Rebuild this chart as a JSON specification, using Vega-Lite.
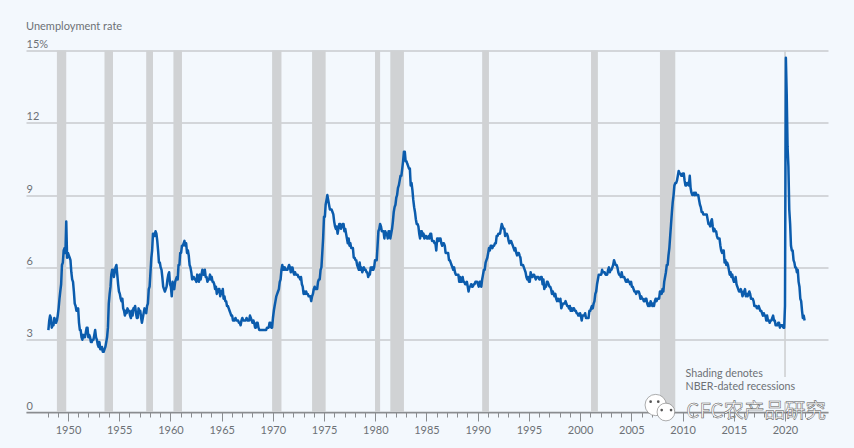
{"$schema":"https://vega.github.io/schema/vega-lite/v6.json","width":802,"height":361.5,"autosize":"none","padding":{"left":26,"top":50.5,"right":26,"bottom":36},"background":"#f3f8fd","view":{"stroke":null},"title":{"text":"Unemployment rate","anchor":"start","frame":"group","offset":7,"font":"Lato","fontSize":11,"fontWeight":"normal","color":"#6d7176"},"config":{"font":"Lato"},"resolve":{"scale":{"x":"independent"}},"datasets":{"rec":[{"s":"1948-11","e":"1949-10","a":0,"b":15},{"s":"1953-07","e":"1954-05","a":0,"b":15},{"s":"1957-08","e":"1958-04","a":0,"b":15},{"s":"1960-04","e":"1961-02","a":0,"b":15},{"s":"1969-12","e":"1970-11","a":0,"b":15},{"s":"1973-11","e":"1975-03","a":0,"b":15},{"s":"1980-01","e":"1980-07","a":0,"b":15},{"s":"1981-07","e":"1982-11","a":0,"b":15},{"s":"1990-07","e":"1991-03","a":0,"b":15},{"s":"2001-03","e":"2001-11","a":0,"b":15},{"s":"2007-12","e":"2009-06","a":0,"b":15},{"s":"2020-02","e":"2020-04","a":1.45,"b":15},{"s":"2020-02","e":"2020-04","a":0,"b":0.4}],"notes":[{"d":"2010-06","y":1.58,"t":"Shading denotes"},{"d":"2010-06","y":1.04,"t":"NBER-dated recessions"}]},"data":{"values":[{"d":"1948-01","u":3.4},{"d":"1948-02","u":3.8},{"d":"1948-03","u":4.0},{"d":"1948-04","u":3.9},{"d":"1948-05","u":3.5},{"d":"1948-06","u":3.6},{"d":"1948-07","u":3.6},{"d":"1948-08","u":3.9},{"d":"1948-09","u":3.8},{"d":"1948-10","u":3.7},{"d":"1948-11","u":3.8},{"d":"1948-12","u":4.0},{"d":"1949-01","u":4.3},{"d":"1949-02","u":4.7},{"d":"1949-03","u":5.0},{"d":"1949-04","u":5.3},{"d":"1949-05","u":6.1},{"d":"1949-06","u":6.2},{"d":"1949-07","u":6.7},{"d":"1949-08","u":6.8},{"d":"1949-09","u":6.6},{"d":"1949-10","u":7.9},{"d":"1949-11","u":6.4},{"d":"1949-12","u":6.6},{"d":"1950-01","u":6.5},{"d":"1950-02","u":6.4},{"d":"1950-03","u":6.3},{"d":"1950-04","u":5.8},{"d":"1950-05","u":5.5},{"d":"1950-06","u":5.4},{"d":"1950-07","u":5.0},{"d":"1950-08","u":4.5},{"d":"1950-09","u":4.4},{"d":"1950-10","u":4.2},{"d":"1950-11","u":4.2},{"d":"1950-12","u":4.3},{"d":"1951-01","u":3.7},{"d":"1951-02","u":3.4},{"d":"1951-03","u":3.4},{"d":"1951-04","u":3.1},{"d":"1951-05","u":3.0},{"d":"1951-06","u":3.2},{"d":"1951-07","u":3.1},{"d":"1951-08","u":3.1},{"d":"1951-09","u":3.3},{"d":"1951-10","u":3.5},{"d":"1951-11","u":3.5},{"d":"1951-12","u":3.1},{"d":"1952-01","u":3.2},{"d":"1952-02","u":3.1},{"d":"1952-03","u":2.9},{"d":"1952-04","u":2.9},{"d":"1952-05","u":3.0},{"d":"1952-06","u":3.0},{"d":"1952-07","u":3.2},{"d":"1952-08","u":3.4},{"d":"1952-09","u":3.1},{"d":"1952-10","u":3.0},{"d":"1952-11","u":2.8},{"d":"1952-12","u":2.7},{"d":"1953-01","u":2.9},{"d":"1953-02","u":2.6},{"d":"1953-03","u":2.6},{"d":"1953-04","u":2.7},{"d":"1953-05","u":2.5},{"d":"1953-06","u":2.5},{"d":"1953-07","u":2.6},{"d":"1953-08","u":2.7},{"d":"1953-09","u":2.9},{"d":"1953-10","u":3.1},{"d":"1953-11","u":3.5},{"d":"1953-12","u":4.5},{"d":"1954-01","u":4.9},{"d":"1954-02","u":5.2},{"d":"1954-03","u":5.7},{"d":"1954-04","u":5.9},{"d":"1954-05","u":5.9},{"d":"1954-06","u":5.6},{"d":"1954-07","u":5.8},{"d":"1954-08","u":6.0},{"d":"1954-09","u":6.1},{"d":"1954-10","u":5.7},{"d":"1954-11","u":5.3},{"d":"1954-12","u":5.0},{"d":"1955-01","u":4.9},{"d":"1955-02","u":4.7},{"d":"1955-03","u":4.6},{"d":"1955-04","u":4.7},{"d":"1955-05","u":4.3},{"d":"1955-06","u":4.2},{"d":"1955-07","u":4.0},{"d":"1955-08","u":4.2},{"d":"1955-09","u":4.1},{"d":"1955-10","u":4.3},{"d":"1955-11","u":4.2},{"d":"1955-12","u":4.2},{"d":"1956-01","u":4.0},{"d":"1956-02","u":3.9},{"d":"1956-03","u":4.2},{"d":"1956-04","u":4.0},{"d":"1956-05","u":4.3},{"d":"1956-06","u":4.3},{"d":"1956-07","u":4.4},{"d":"1956-08","u":4.1},{"d":"1956-09","u":3.9},{"d":"1956-10","u":3.9},{"d":"1956-11","u":4.3},{"d":"1956-12","u":4.2},{"d":"1957-01","u":4.2},{"d":"1957-02","u":3.9},{"d":"1957-03","u":3.7},{"d":"1957-04","u":3.9},{"d":"1957-05","u":4.1},{"d":"1957-06","u":4.3},{"d":"1957-07","u":4.2},{"d":"1957-08","u":4.1},{"d":"1957-09","u":4.4},{"d":"1957-10","u":4.5},{"d":"1957-11","u":5.1},{"d":"1957-12","u":5.2},{"d":"1958-01","u":5.8},{"d":"1958-02","u":6.4},{"d":"1958-03","u":6.7},{"d":"1958-04","u":7.4},{"d":"1958-05","u":7.4},{"d":"1958-06","u":7.3},{"d":"1958-07","u":7.5},{"d":"1958-08","u":7.4},{"d":"1958-09","u":7.1},{"d":"1958-10","u":6.7},{"d":"1958-11","u":6.2},{"d":"1958-12","u":6.2},{"d":"1959-01","u":6.0},{"d":"1959-02","u":5.9},{"d":"1959-03","u":5.6},{"d":"1959-04","u":5.2},{"d":"1959-05","u":5.1},{"d":"1959-06","u":5.0},{"d":"1959-07","u":5.1},{"d":"1959-08","u":5.2},{"d":"1959-09","u":5.5},{"d":"1959-10","u":5.7},{"d":"1959-11","u":5.8},{"d":"1959-12","u":5.3},{"d":"1960-01","u":5.2},{"d":"1960-02","u":4.8},{"d":"1960-03","u":5.4},{"d":"1960-04","u":5.2},{"d":"1960-05","u":5.1},{"d":"1960-06","u":5.4},{"d":"1960-07","u":5.5},{"d":"1960-08","u":5.6},{"d":"1960-09","u":5.5},{"d":"1960-10","u":6.1},{"d":"1960-11","u":6.1},{"d":"1960-12","u":6.6},{"d":"1961-01","u":6.6},{"d":"1961-02","u":6.9},{"d":"1961-03","u":6.9},{"d":"1961-04","u":7.0},{"d":"1961-05","u":7.1},{"d":"1961-06","u":6.9},{"d":"1961-07","u":7.0},{"d":"1961-08","u":6.6},{"d":"1961-09","u":6.7},{"d":"1961-10","u":6.5},{"d":"1961-11","u":6.1},{"d":"1961-12","u":6.0},{"d":"1962-01","u":5.8},{"d":"1962-02","u":5.5},{"d":"1962-03","u":5.6},{"d":"1962-04","u":5.6},{"d":"1962-05","u":5.5},{"d":"1962-06","u":5.5},{"d":"1962-07","u":5.4},{"d":"1962-08","u":5.7},{"d":"1962-09","u":5.6},{"d":"1962-10","u":5.4},{"d":"1962-11","u":5.7},{"d":"1962-12","u":5.5},{"d":"1963-01","u":5.7},{"d":"1963-02","u":5.9},{"d":"1963-03","u":5.7},{"d":"1963-04","u":5.7},{"d":"1963-05","u":5.9},{"d":"1963-06","u":5.6},{"d":"1963-07","u":5.6},{"d":"1963-08","u":5.4},{"d":"1963-09","u":5.5},{"d":"1963-10","u":5.5},{"d":"1963-11","u":5.7},{"d":"1963-12","u":5.5},{"d":"1964-01","u":5.6},{"d":"1964-02","u":5.4},{"d":"1964-03","u":5.4},{"d":"1964-04","u":5.3},{"d":"1964-05","u":5.1},{"d":"1964-06","u":5.2},{"d":"1964-07","u":4.9},{"d":"1964-08","u":5.0},{"d":"1964-09","u":5.1},{"d":"1964-10","u":5.1},{"d":"1964-11","u":4.8},{"d":"1964-12","u":5.0},{"d":"1965-01","u":4.9},{"d":"1965-02","u":5.1},{"d":"1965-03","u":4.7},{"d":"1965-04","u":4.8},{"d":"1965-05","u":4.6},{"d":"1965-06","u":4.6},{"d":"1965-07","u":4.4},{"d":"1965-08","u":4.4},{"d":"1965-09","u":4.3},{"d":"1965-10","u":4.2},{"d":"1965-11","u":4.1},{"d":"1965-12","u":4.0},{"d":"1966-01","u":4.0},{"d":"1966-02","u":3.8},{"d":"1966-03","u":3.8},{"d":"1966-04","u":3.8},{"d":"1966-05","u":3.9},{"d":"1966-06","u":3.8},{"d":"1966-07","u":3.8},{"d":"1966-08","u":3.8},{"d":"1966-09","u":3.7},{"d":"1966-10","u":3.7},{"d":"1966-11","u":3.6},{"d":"1966-12","u":3.8},{"d":"1967-01","u":3.9},{"d":"1967-02","u":3.8},{"d":"1967-03","u":3.8},{"d":"1967-04","u":3.8},{"d":"1967-05","u":3.8},{"d":"1967-06","u":3.9},{"d":"1967-07","u":3.8},{"d":"1967-08","u":3.8},{"d":"1967-09","u":3.8},{"d":"1967-10","u":4.0},{"d":"1967-11","u":3.9},{"d":"1967-12","u":3.8},{"d":"1968-01","u":3.7},{"d":"1968-02","u":3.8},{"d":"1968-03","u":3.7},{"d":"1968-04","u":3.5},{"d":"1968-05","u":3.5},{"d":"1968-06","u":3.7},{"d":"1968-07","u":3.7},{"d":"1968-08","u":3.5},{"d":"1968-09","u":3.4},{"d":"1968-10","u":3.4},{"d":"1968-11","u":3.4},{"d":"1968-12","u":3.4},{"d":"1969-01","u":3.4},{"d":"1969-02","u":3.4},{"d":"1969-03","u":3.4},{"d":"1969-04","u":3.4},{"d":"1969-05","u":3.4},{"d":"1969-06","u":3.5},{"d":"1969-07","u":3.5},{"d":"1969-08","u":3.5},{"d":"1969-09","u":3.7},{"d":"1969-10","u":3.7},{"d":"1969-11","u":3.5},{"d":"1969-12","u":3.5},{"d":"1970-01","u":3.9},{"d":"1970-02","u":4.2},{"d":"1970-03","u":4.4},{"d":"1970-04","u":4.6},{"d":"1970-05","u":4.8},{"d":"1970-06","u":4.9},{"d":"1970-07","u":5.0},{"d":"1970-08","u":5.1},{"d":"1970-09","u":5.4},{"d":"1970-10","u":5.5},{"d":"1970-11","u":5.9},{"d":"1970-12","u":6.1},{"d":"1971-01","u":5.9},{"d":"1971-02","u":5.9},{"d":"1971-03","u":6.0},{"d":"1971-04","u":5.9},{"d":"1971-05","u":5.9},{"d":"1971-06","u":5.9},{"d":"1971-07","u":6.0},{"d":"1971-08","u":6.1},{"d":"1971-09","u":6.0},{"d":"1971-10","u":5.8},{"d":"1971-11","u":6.0},{"d":"1971-12","u":6.0},{"d":"1972-01","u":5.8},{"d":"1972-02","u":5.7},{"d":"1972-03","u":5.8},{"d":"1972-04","u":5.7},{"d":"1972-05","u":5.7},{"d":"1972-06","u":5.7},{"d":"1972-07","u":5.6},{"d":"1972-08","u":5.6},{"d":"1972-09","u":5.5},{"d":"1972-10","u":5.6},{"d":"1972-11","u":5.3},{"d":"1972-12","u":5.2},{"d":"1973-01","u":4.9},{"d":"1973-02","u":5.0},{"d":"1973-03","u":4.9},{"d":"1973-04","u":5.0},{"d":"1973-05","u":4.9},{"d":"1973-06","u":4.9},{"d":"1973-07","u":4.8},{"d":"1973-08","u":4.8},{"d":"1973-09","u":4.8},{"d":"1973-10","u":4.6},{"d":"1973-11","u":4.8},{"d":"1973-12","u":4.9},{"d":"1974-01","u":5.1},{"d":"1974-02","u":5.2},{"d":"1974-03","u":5.1},{"d":"1974-04","u":5.1},{"d":"1974-05","u":5.1},{"d":"1974-06","u":5.4},{"d":"1974-07","u":5.5},{"d":"1974-08","u":5.5},{"d":"1974-09","u":5.9},{"d":"1974-10","u":6.0},{"d":"1974-11","u":6.6},{"d":"1974-12","u":7.2},{"d":"1975-01","u":8.1},{"d":"1975-02","u":8.1},{"d":"1975-03","u":8.6},{"d":"1975-04","u":8.8},{"d":"1975-05","u":9.0},{"d":"1975-06","u":8.8},{"d":"1975-07","u":8.6},{"d":"1975-08","u":8.4},{"d":"1975-09","u":8.4},{"d":"1975-10","u":8.4},{"d":"1975-11","u":8.3},{"d":"1975-12","u":8.2},{"d":"1976-01","u":7.9},{"d":"1976-02","u":7.7},{"d":"1976-03","u":7.6},{"d":"1976-04","u":7.7},{"d":"1976-05","u":7.4},{"d":"1976-06","u":7.6},{"d":"1976-07","u":7.8},{"d":"1976-08","u":7.8},{"d":"1976-09","u":7.6},{"d":"1976-10","u":7.7},{"d":"1976-11","u":7.8},{"d":"1976-12","u":7.8},{"d":"1977-01","u":7.5},{"d":"1977-02","u":7.6},{"d":"1977-03","u":7.4},{"d":"1977-04","u":7.2},{"d":"1977-05","u":7.0},{"d":"1977-06","u":7.2},{"d":"1977-07","u":6.9},{"d":"1977-08","u":7.0},{"d":"1977-09","u":6.8},{"d":"1977-10","u":6.8},{"d":"1977-11","u":6.8},{"d":"1977-12","u":6.4},{"d":"1978-01","u":6.4},{"d":"1978-02","u":6.3},{"d":"1978-03","u":6.3},{"d":"1978-04","u":6.1},{"d":"1978-05","u":6.0},{"d":"1978-06","u":5.9},{"d":"1978-07","u":6.2},{"d":"1978-08","u":5.9},{"d":"1978-09","u":6.0},{"d":"1978-10","u":5.8},{"d":"1978-11","u":5.9},{"d":"1978-12","u":6.0},{"d":"1979-01","u":5.9},{"d":"1979-02","u":5.9},{"d":"1979-03","u":5.8},{"d":"1979-04","u":5.8},{"d":"1979-05","u":5.6},{"d":"1979-06","u":5.7},{"d":"1979-07","u":5.7},{"d":"1979-08","u":6.0},{"d":"1979-09","u":5.9},{"d":"1979-10","u":6.0},{"d":"1979-11","u":5.9},{"d":"1979-12","u":6.0},{"d":"1980-01","u":6.3},{"d":"1980-02","u":6.3},{"d":"1980-03","u":6.3},{"d":"1980-04","u":6.9},{"d":"1980-05","u":7.5},{"d":"1980-06","u":7.6},{"d":"1980-07","u":7.8},{"d":"1980-08","u":7.7},{"d":"1980-09","u":7.5},{"d":"1980-10","u":7.5},{"d":"1980-11","u":7.5},{"d":"1980-12","u":7.2},{"d":"1981-01","u":7.5},{"d":"1981-02","u":7.4},{"d":"1981-03","u":7.4},{"d":"1981-04","u":7.2},{"d":"1981-05","u":7.5},{"d":"1981-06","u":7.5},{"d":"1981-07","u":7.2},{"d":"1981-08","u":7.4},{"d":"1981-09","u":7.6},{"d":"1981-10","u":7.9},{"d":"1981-11","u":8.3},{"d":"1981-12","u":8.5},{"d":"1982-01","u":8.6},{"d":"1982-02","u":8.9},{"d":"1982-03","u":9.0},{"d":"1982-04","u":9.3},{"d":"1982-05","u":9.4},{"d":"1982-06","u":9.6},{"d":"1982-07","u":9.8},{"d":"1982-08","u":9.8},{"d":"1982-09","u":10.1},{"d":"1982-10","u":10.4},{"d":"1982-11","u":10.8},{"d":"1982-12","u":10.8},{"d":"1983-01","u":10.4},{"d":"1983-02","u":10.4},{"d":"1983-03","u":10.3},{"d":"1983-04","u":10.2},{"d":"1983-05","u":10.1},{"d":"1983-06","u":10.1},{"d":"1983-07","u":9.4},{"d":"1983-08","u":9.5},{"d":"1983-09","u":9.2},{"d":"1983-10","u":8.8},{"d":"1983-11","u":8.5},{"d":"1983-12","u":8.3},{"d":"1984-01","u":8.0},{"d":"1984-02","u":7.8},{"d":"1984-03","u":7.8},{"d":"1984-04","u":7.7},{"d":"1984-05","u":7.4},{"d":"1984-06","u":7.2},{"d":"1984-07","u":7.5},{"d":"1984-08","u":7.5},{"d":"1984-09","u":7.3},{"d":"1984-10","u":7.4},{"d":"1984-11","u":7.2},{"d":"1984-12","u":7.3},{"d":"1985-01","u":7.3},{"d":"1985-02","u":7.2},{"d":"1985-03","u":7.2},{"d":"1985-04","u":7.3},{"d":"1985-05","u":7.2},{"d":"1985-06","u":7.4},{"d":"1985-07","u":7.4},{"d":"1985-08","u":7.1},{"d":"1985-09","u":7.1},{"d":"1985-10","u":7.1},{"d":"1985-11","u":7.0},{"d":"1985-12","u":7.0},{"d":"1986-01","u":6.7},{"d":"1986-02","u":7.2},{"d":"1986-03","u":7.2},{"d":"1986-04","u":7.1},{"d":"1986-05","u":7.2},{"d":"1986-06","u":7.2},{"d":"1986-07","u":7.0},{"d":"1986-08","u":6.9},{"d":"1986-09","u":7.0},{"d":"1986-10","u":7.0},{"d":"1986-11","u":6.9},{"d":"1986-12","u":6.6},{"d":"1987-01","u":6.6},{"d":"1987-02","u":6.6},{"d":"1987-03","u":6.6},{"d":"1987-04","u":6.3},{"d":"1987-05","u":6.3},{"d":"1987-06","u":6.2},{"d":"1987-07","u":6.1},{"d":"1987-08","u":6.0},{"d":"1987-09","u":5.9},{"d":"1987-10","u":6.0},{"d":"1987-11","u":5.8},{"d":"1987-12","u":5.7},{"d":"1988-01","u":5.7},{"d":"1988-02","u":5.7},{"d":"1988-03","u":5.7},{"d":"1988-04","u":5.4},{"d":"1988-05","u":5.6},{"d":"1988-06","u":5.4},{"d":"1988-07","u":5.4},{"d":"1988-08","u":5.6},{"d":"1988-09","u":5.4},{"d":"1988-10","u":5.4},{"d":"1988-11","u":5.3},{"d":"1988-12","u":5.3},{"d":"1989-01","u":5.4},{"d":"1989-02","u":5.2},{"d":"1989-03","u":5.0},{"d":"1989-04","u":5.2},{"d":"1989-05","u":5.2},{"d":"1989-06","u":5.3},{"d":"1989-07","u":5.2},{"d":"1989-08","u":5.2},{"d":"1989-09","u":5.3},{"d":"1989-10","u":5.3},{"d":"1989-11","u":5.4},{"d":"1989-12","u":5.4},{"d":"1990-01","u":5.4},{"d":"1990-02","u":5.3},{"d":"1990-03","u":5.2},{"d":"1990-04","u":5.4},{"d":"1990-05","u":5.4},{"d":"1990-06","u":5.2},{"d":"1990-07","u":5.5},{"d":"1990-08","u":5.7},{"d":"1990-09","u":5.9},{"d":"1990-10","u":5.9},{"d":"1990-11","u":6.2},{"d":"1990-12","u":6.3},{"d":"1991-01","u":6.4},{"d":"1991-02","u":6.6},{"d":"1991-03","u":6.8},{"d":"1991-04","u":6.7},{"d":"1991-05","u":6.9},{"d":"1991-06","u":6.9},{"d":"1991-07","u":6.8},{"d":"1991-08","u":6.9},{"d":"1991-09","u":6.9},{"d":"1991-10","u":7.0},{"d":"1991-11","u":7.0},{"d":"1991-12","u":7.3},{"d":"1992-01","u":7.3},{"d":"1992-02","u":7.4},{"d":"1992-03","u":7.4},{"d":"1992-04","u":7.4},{"d":"1992-05","u":7.6},{"d":"1992-06","u":7.8},{"d":"1992-07","u":7.7},{"d":"1992-08","u":7.6},{"d":"1992-09","u":7.6},{"d":"1992-10","u":7.3},{"d":"1992-11","u":7.4},{"d":"1992-12","u":7.4},{"d":"1993-01","u":7.3},{"d":"1993-02","u":7.1},{"d":"1993-03","u":7.0},{"d":"1993-04","u":7.1},{"d":"1993-05","u":7.1},{"d":"1993-06","u":7.0},{"d":"1993-07","u":6.9},{"d":"1993-08","u":6.8},{"d":"1993-09","u":6.7},{"d":"1993-10","u":6.8},{"d":"1993-11","u":6.6},{"d":"1993-12","u":6.5},{"d":"1994-01","u":6.6},{"d":"1994-02","u":6.6},{"d":"1994-03","u":6.5},{"d":"1994-04","u":6.4},{"d":"1994-05","u":6.1},{"d":"1994-06","u":6.1},{"d":"1994-07","u":6.1},{"d":"1994-08","u":6.0},{"d":"1994-09","u":5.9},{"d":"1994-10","u":5.8},{"d":"1994-11","u":5.6},{"d":"1994-12","u":5.5},{"d":"1995-01","u":5.6},{"d":"1995-02","u":5.4},{"d":"1995-03","u":5.4},{"d":"1995-04","u":5.8},{"d":"1995-05","u":5.6},{"d":"1995-06","u":5.6},{"d":"1995-07","u":5.7},{"d":"1995-08","u":5.7},{"d":"1995-09","u":5.6},{"d":"1995-10","u":5.5},{"d":"1995-11","u":5.6},{"d":"1995-12","u":5.6},{"d":"1996-01","u":5.6},{"d":"1996-02","u":5.5},{"d":"1996-03","u":5.5},{"d":"1996-04","u":5.6},{"d":"1996-05","u":5.6},{"d":"1996-06","u":5.3},{"d":"1996-07","u":5.5},{"d":"1996-08","u":5.1},{"d":"1996-09","u":5.2},{"d":"1996-10","u":5.2},{"d":"1996-11","u":5.4},{"d":"1996-12","u":5.4},{"d":"1997-01","u":5.3},{"d":"1997-02","u":5.2},{"d":"1997-03","u":5.2},{"d":"1997-04","u":5.1},{"d":"1997-05","u":4.9},{"d":"1997-06","u":5.0},{"d":"1997-07","u":4.9},{"d":"1997-08","u":4.8},{"d":"1997-09","u":4.9},{"d":"1997-10","u":4.7},{"d":"1997-11","u":4.6},{"d":"1997-12","u":4.7},{"d":"1998-01","u":4.6},{"d":"1998-02","u":4.6},{"d":"1998-03","u":4.7},{"d":"1998-04","u":4.3},{"d":"1998-05","u":4.4},{"d":"1998-06","u":4.5},{"d":"1998-07","u":4.5},{"d":"1998-08","u":4.5},{"d":"1998-09","u":4.6},{"d":"1998-10","u":4.5},{"d":"1998-11","u":4.4},{"d":"1998-12","u":4.4},{"d":"1999-01","u":4.3},{"d":"1999-02","u":4.4},{"d":"1999-03","u":4.2},{"d":"1999-04","u":4.3},{"d":"1999-05","u":4.2},{"d":"1999-06","u":4.3},{"d":"1999-07","u":4.3},{"d":"1999-08","u":4.2},{"d":"1999-09","u":4.2},{"d":"1999-10","u":4.1},{"d":"1999-11","u":4.1},{"d":"1999-12","u":4.0},{"d":"2000-01","u":4.0},{"d":"2000-02","u":4.1},{"d":"2000-03","u":4.0},{"d":"2000-04","u":3.8},{"d":"2000-05","u":4.0},{"d":"2000-06","u":4.0},{"d":"2000-07","u":4.0},{"d":"2000-08","u":4.1},{"d":"2000-09","u":3.9},{"d":"2000-10","u":3.9},{"d":"2000-11","u":3.9},{"d":"2000-12","u":3.9},{"d":"2001-01","u":4.2},{"d":"2001-02","u":4.2},{"d":"2001-03","u":4.3},{"d":"2001-04","u":4.4},{"d":"2001-05","u":4.3},{"d":"2001-06","u":4.5},{"d":"2001-07","u":4.6},{"d":"2001-08","u":4.9},{"d":"2001-09","u":5.0},{"d":"2001-10","u":5.3},{"d":"2001-11","u":5.5},{"d":"2001-12","u":5.7},{"d":"2002-01","u":5.7},{"d":"2002-02","u":5.7},{"d":"2002-03","u":5.7},{"d":"2002-04","u":5.9},{"d":"2002-05","u":5.8},{"d":"2002-06","u":5.8},{"d":"2002-07","u":5.8},{"d":"2002-08","u":5.7},{"d":"2002-09","u":5.7},{"d":"2002-10","u":5.7},{"d":"2002-11","u":5.9},{"d":"2002-12","u":6.0},{"d":"2003-01","u":5.8},{"d":"2003-02","u":5.9},{"d":"2003-03","u":5.9},{"d":"2003-04","u":6.0},{"d":"2003-05","u":6.1},{"d":"2003-06","u":6.3},{"d":"2003-07","u":6.2},{"d":"2003-08","u":6.1},{"d":"2003-09","u":6.1},{"d":"2003-10","u":6.0},{"d":"2003-11","u":5.8},{"d":"2003-12","u":5.7},{"d":"2004-01","u":5.7},{"d":"2004-02","u":5.6},{"d":"2004-03","u":5.8},{"d":"2004-04","u":5.6},{"d":"2004-05","u":5.6},{"d":"2004-06","u":5.6},{"d":"2004-07","u":5.5},{"d":"2004-08","u":5.4},{"d":"2004-09","u":5.4},{"d":"2004-10","u":5.5},{"d":"2004-11","u":5.4},{"d":"2004-12","u":5.4},{"d":"2005-01","u":5.3},{"d":"2005-02","u":5.4},{"d":"2005-03","u":5.2},{"d":"2005-04","u":5.2},{"d":"2005-05","u":5.1},{"d":"2005-06","u":5.0},{"d":"2005-07","u":5.0},{"d":"2005-08","u":4.9},{"d":"2005-09","u":5.0},{"d":"2005-10","u":5.0},{"d":"2005-11","u":5.0},{"d":"2005-12","u":4.9},{"d":"2006-01","u":4.7},{"d":"2006-02","u":4.8},{"d":"2006-03","u":4.7},{"d":"2006-04","u":4.7},{"d":"2006-05","u":4.6},{"d":"2006-06","u":4.6},{"d":"2006-07","u":4.7},{"d":"2006-08","u":4.7},{"d":"2006-09","u":4.5},{"d":"2006-10","u":4.4},{"d":"2006-11","u":4.5},{"d":"2006-12","u":4.4},{"d":"2007-01","u":4.6},{"d":"2007-02","u":4.5},{"d":"2007-03","u":4.4},{"d":"2007-04","u":4.5},{"d":"2007-05","u":4.4},{"d":"2007-06","u":4.6},{"d":"2007-07","u":4.7},{"d":"2007-08","u":4.6},{"d":"2007-09","u":4.7},{"d":"2007-10","u":4.7},{"d":"2007-11","u":4.7},{"d":"2007-12","u":5.0},{"d":"2008-01","u":5.0},{"d":"2008-02","u":4.9},{"d":"2008-03","u":5.1},{"d":"2008-04","u":5.0},{"d":"2008-05","u":5.4},{"d":"2008-06","u":5.6},{"d":"2008-07","u":5.8},{"d":"2008-08","u":6.1},{"d":"2008-09","u":6.1},{"d":"2008-10","u":6.5},{"d":"2008-11","u":6.8},{"d":"2008-12","u":7.3},{"d":"2009-01","u":7.8},{"d":"2009-02","u":8.3},{"d":"2009-03","u":8.7},{"d":"2009-04","u":9.0},{"d":"2009-05","u":9.4},{"d":"2009-06","u":9.5},{"d":"2009-07","u":9.5},{"d":"2009-08","u":9.6},{"d":"2009-09","u":9.8},{"d":"2009-10","u":10.0},{"d":"2009-11","u":9.9},{"d":"2009-12","u":9.9},{"d":"2010-01","u":9.8},{"d":"2010-02","u":9.8},{"d":"2010-03","u":9.9},{"d":"2010-04","u":9.9},{"d":"2010-05","u":9.6},{"d":"2010-06","u":9.4},{"d":"2010-07","u":9.4},{"d":"2010-08","u":9.5},{"d":"2010-09","u":9.5},{"d":"2010-10","u":9.4},{"d":"2010-11","u":9.8},{"d":"2010-12","u":9.3},{"d":"2011-01","u":9.1},{"d":"2011-02","u":9.0},{"d":"2011-03","u":9.0},{"d":"2011-04","u":9.1},{"d":"2011-05","u":9.0},{"d":"2011-06","u":9.1},{"d":"2011-07","u":9.0},{"d":"2011-08","u":9.0},{"d":"2011-09","u":9.0},{"d":"2011-10","u":8.8},{"d":"2011-11","u":8.6},{"d":"2011-12","u":8.5},{"d":"2012-01","u":8.3},{"d":"2012-02","u":8.3},{"d":"2012-03","u":8.2},{"d":"2012-04","u":8.2},{"d":"2012-05","u":8.2},{"d":"2012-06","u":8.2},{"d":"2012-07","u":8.2},{"d":"2012-08","u":8.0},{"d":"2012-09","u":7.8},{"d":"2012-10","u":7.8},{"d":"2012-11","u":7.7},{"d":"2012-12","u":7.9},{"d":"2013-01","u":8.0},{"d":"2013-02","u":7.7},{"d":"2013-03","u":7.5},{"d":"2013-04","u":7.6},{"d":"2013-05","u":7.5},{"d":"2013-06","u":7.5},{"d":"2013-07","u":7.3},{"d":"2013-08","u":7.2},{"d":"2013-09","u":7.2},{"d":"2013-10","u":7.2},{"d":"2013-11","u":6.9},{"d":"2013-12","u":6.7},{"d":"2014-01","u":6.6},{"d":"2014-02","u":6.7},{"d":"2014-03","u":6.7},{"d":"2014-04","u":6.2},{"d":"2014-05","u":6.3},{"d":"2014-06","u":6.1},{"d":"2014-07","u":6.2},{"d":"2014-08","u":6.1},{"d":"2014-09","u":5.9},{"d":"2014-10","u":5.7},{"d":"2014-11","u":5.8},{"d":"2014-12","u":5.6},{"d":"2015-01","u":5.7},{"d":"2015-02","u":5.5},{"d":"2015-03","u":5.4},{"d":"2015-04","u":5.4},{"d":"2015-05","u":5.6},{"d":"2015-06","u":5.3},{"d":"2015-07","u":5.2},{"d":"2015-08","u":5.1},{"d":"2015-09","u":5.0},{"d":"2015-10","u":5.0},{"d":"2015-11","u":5.1},{"d":"2015-12","u":5.0},{"d":"2016-01","u":4.8},{"d":"2016-02","u":4.9},{"d":"2016-03","u":5.0},{"d":"2016-04","u":5.1},{"d":"2016-05","u":4.8},{"d":"2016-06","u":4.9},{"d":"2016-07","u":4.8},{"d":"2016-08","u":4.9},{"d":"2016-09","u":5.0},{"d":"2016-10","u":4.9},{"d":"2016-11","u":4.7},{"d":"2016-12","u":4.7},{"d":"2017-01","u":4.7},{"d":"2017-02","u":4.6},{"d":"2017-03","u":4.4},{"d":"2017-04","u":4.4},{"d":"2017-05","u":4.4},{"d":"2017-06","u":4.3},{"d":"2017-07","u":4.3},{"d":"2017-08","u":4.4},{"d":"2017-09","u":4.3},{"d":"2017-10","u":4.2},{"d":"2017-11","u":4.2},{"d":"2017-12","u":4.1},{"d":"2018-01","u":4.0},{"d":"2018-02","u":4.1},{"d":"2018-03","u":4.0},{"d":"2018-04","u":4.0},{"d":"2018-05","u":3.8},{"d":"2018-06","u":4.0},{"d":"2018-07","u":3.8},{"d":"2018-08","u":3.8},{"d":"2018-09","u":3.7},{"d":"2018-10","u":3.8},{"d":"2018-11","u":3.8},{"d":"2018-12","u":3.9},{"d":"2019-01","u":4.0},{"d":"2019-02","u":3.8},{"d":"2019-03","u":3.8},{"d":"2019-04","u":3.6},{"d":"2019-05","u":3.6},{"d":"2019-06","u":3.6},{"d":"2019-07","u":3.7},{"d":"2019-08","u":3.7},{"d":"2019-09","u":3.5},{"d":"2019-10","u":3.6},{"d":"2019-11","u":3.6},{"d":"2019-12","u":3.6},{"d":"2020-01","u":3.5},{"d":"2020-02","u":3.5},{"d":"2020-03","u":4.4},{"d":"2020-04","u":14.7},{"d":"2020-05","u":13.2},{"d":"2020-06","u":11.0},{"d":"2020-07","u":10.2},{"d":"2020-08","u":8.4},{"d":"2020-09","u":7.8},{"d":"2020-10","u":6.9},{"d":"2020-11","u":6.7},{"d":"2020-12","u":6.7},{"d":"2021-01","u":6.3},{"d":"2021-02","u":6.2},{"d":"2021-03","u":6.0},{"d":"2021-04","u":6.0},{"d":"2021-05","u":5.8},{"d":"2021-06","u":5.9},{"d":"2021-07","u":5.4},{"d":"2021-08","u":5.2},{"d":"2021-09","u":4.7},{"d":"2021-10","u":4.6},{"d":"2021-11","u":4.2},{"d":"2021-12","u":3.9},{"d":"2022-01","u":4.0},{"d":"2022-02","u":3.8}]},"layer":[{"data":{"name":"rec"},"mark":{"type":"rect","color":"#d0d2d4"},"encoding":{"x":{"field":"s","type":"temporal","scale":{"type":"utc","domain":["1945-10-22","2024-05-18"]},"axis":null},"x2":{"field":"e"},"y":{"field":"a","type":"quantitative","scale":{"domain":[0,15],"nice":false},"axis":{"title":null,"values":[0,3,6,9,12,15],"labelExpr":"datum.value==15 ? '15%' : datum.value","labelAlign":"left","labelBaseline":"bottom","labelPadding":0,"labelOffset":-1,"labelFont":"Lato","labelFontSize":11,"labelColor":"#6d7176","ticks":false,"domain":false,"grid":true,"gridColor":"#c9cbce","gridWidth":1.5}},"y2":{"field":"b"}}},{"data":{"name":"rec"},"mark":{"type":"rule","opacity":0},"encoding":{"x":{"field":"s","type":"temporal","scale":{"type":"utc","domain":["1945-11-25","2024-03-15"]},"axis":{"title":null,"orient":"bottom","tickCount":{"interval":"year","step":1},"labelExpr":"utcyear(datum.value)%5==0 ? utcFormat(datum.value,'%Y') : ''","labelOverlap":false,"labelFlush":false,"labelFont":"Lato","labelFontSize":11,"labelColor":"#6d7176","labelPadding":3,"domainColor":"#8a8d90","domainWidth":1.5,"tickColor":"#8a8d90","tickWidth":1,"tickSize":{"condition":{"test":"utcyear(datum.value)%5==0","value":9},"value":5},"tickOpacity":{"condition":{"test":"utcyear(datum.value)<1948 || utcyear(datum.value)>2022","value":0},"value":1},"grid":false}}}},{"mark":{"type":"line","color":"#0b5cad","strokeWidth":2.5,"strokeJoin":"round"},"encoding":{"x":{"field":"d","type":"temporal","scale":{"type":"utc","domain":["1945-10-22","2024-05-18"]},"axis":null},"y":{"field":"u","type":"quantitative","scale":{"domain":[0,15],"nice":false}}}},{"data":{"name":"notes"},"mark":{"type":"text","align":"left","baseline":"middle","font":"Lato","fontSize":10.7,"color":"#6d7176"},"encoding":{"x":{"field":"d","type":"temporal","scale":{"type":"utc","domain":["1945-10-22","2024-05-18"]},"axis":null},"y":{"field":"y","type":"quantitative","scale":{"domain":[0,15],"nice":false}},"text":{"field":"t"}}},{"data":{"values":[{"d":"2007-07","y":0.29,"r":452},{"d":"2008-07","y":0,"r":314}]},"mark":{"type":"point","filled":true,"fill":"#ffffff","stroke":"#777777","strokeWidth":0.6,"opacity":1,"clip":false},"encoding":{"x":{"field":"d","type":"temporal","scale":{"type":"utc","domain":["1945-10-22","2024-05-18"]},"axis":null},"y":{"field":"y","type":"quantitative","scale":{"domain":[0,15],"nice":false}},"size":{"field":"r","type":"quantitative","scale":null}}},{"data":{"values":[{"d":"2007-01","y":0.43},{"d":"2007-10","y":0.43},{"d":"2008-02","y":0.08},{"d":"2009-01","y":0.08}]},"mark":{"type":"point","filled":true,"fill":"#555555","opacity":1,"size":7,"clip":false},"encoding":{"x":{"field":"d","type":"temporal","scale":{"type":"utc","domain":["1945-10-22","2024-05-18"]},"axis":null},"y":{"field":"y","type":"quantitative","scale":{"domain":[0,15],"nice":false}}}},{"data":{"values":[{"d":"2010-07","y":0,"t":"CFC农产品研究"}]},"mark":{"type":"text","align":"left","baseline":"middle","font":"Noto Sans CJK SC","fontSize":20.5,"fill":"#ffffff","stroke":"#555555","strokeWidth":0.5},"encoding":{"x":{"field":"d","type":"temporal","scale":{"type":"utc","domain":["1945-10-22","2024-05-18"]},"axis":null},"y":{"field":"y","type":"quantitative","scale":{"domain":[0,15],"nice":false}},"text":{"field":"t"}}}]}
